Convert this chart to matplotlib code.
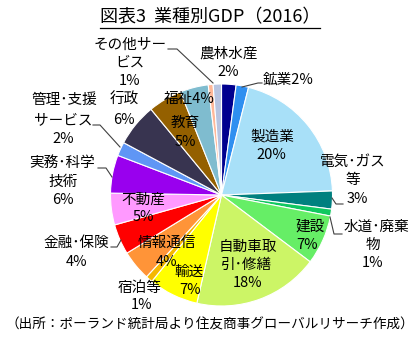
import matplotlib.pyplot as plt
from matplotlib.lines import Line2D

plt.rcParams['font.family'] = ['Noto Sans CJK JP', 'DejaVu Sans']

# 業種別GDP構成比（%）、上から時計回り
sectors = ["農林水産", "鉱業", "製造業", "電気･ガス等", "水道･廃棄物", "建設",
           "自動車取引･修繕", "輸送", "宿泊等", "情報通信", "金融･保険", "不動産",
           "実務･科学技術", "管理･支援サービス", "行政", "教育", "福祉", "その他", "その他サービス"]
shares = [2.1, 1.8, 20.4, 2.6, 1.0, 7.2,
          18.2, 7.2, 1.0, 4.4, 4.4, 4.6,
          5.5, 2.0, 6.2, 4.9, 4.1, 0.7, 1.2]
colors = ["#00008f", "#2f8ff0", "#a8e0f8", "#00807f", "#10c860", "#66ee66",
          "#ccf566", "#ffff00", "#f5b800", "#ff9438", "#ff0000", "#ff99ff",
          "#9900ee", "#5f96f5", "#383450", "#946000", "#7fbccf", "#ffb899", "#b8c4e0"]

W, H = 420, 341
CX, CY, R = 221.5, 195.0, 111.0

fig = plt.figure(figsize=(W / 100, H / 100), dpi=100)
ax = fig.add_axes([(CX - R) / W, (H - CY - R) / H, 2 * R / W, 2 * R / H])
ax.pie(shares, colors=colors, startangle=90, counterclock=False,
       wedgeprops=dict(edgecolor="white", linewidth=0.8))
ax.set_xlim(-1, 1)
ax.set_ylim(-1, 1)


def d(px, py):
    # ピクセル座標 -> パイの座標
    return ((px - CX) / R, (CY - py) / R)


def label(px, py, s, size=10.5):
    x, y = d(px, py)
    ax.text(x, y, s, ha="center", va="center", fontsize=size, clip_on=False)


def leader(*pts):
    xs, ys = zip(*[d(px, py) for px, py in pts])
    ax.plot(xs, ys, color="#404040", lw=0.8, clip_on=False)


def pct(name):
    return f"{shares[sectors.index(name)]:.0f}%"


# ラベル
label(130, 45, "その他サー")
label(130, 63, "ビス")
label(130, 81, pct("その他サービス"))
leader((168, 49), (177, 49), (213, 83))

label(229, 54, "農林水産")
label(228, 72, pct("農林水産"))

label(288, 80, "鉱業" + pct("鉱業"))
leader((242, 87), (258, 83), (262, 83))

label(272, 137, "製造業")
label(271, 155, pct("製造業"))

label(353, 162, "電気･ガス")
label(353, 180, "等")
label(357, 199, pct("電気･ガス等"))
leader((332, 198), (336, 204), (343, 204))

label(376, 227, "水道･廃棄")
label(373, 245, "物")
label(373, 263, pct("水道･廃棄物"))
leader((330, 217), (334, 234), (342, 234))

label(310, 227, "建設")
label(307, 245, pct("建設"))

label(248, 247, "自動車取")
label(247, 265, "引･修繕")
label(248, 283, pct("自動車取引･修繕"))

label(189, 272, "輸送")
label(190, 290, pct("輸送"))

label(140, 288, "宿泊等")
label(142, 305, pct("宿泊等"))

label(167, 243, "情報通信")
label(167, 262, pct("情報通信"))

label(76, 243, "金融･保険")
label(77, 262, pct("金融･保険"))
leader((111, 247), (117, 247), (121, 240))

label(143, 200, "不動産")
label(143, 217, pct("不動産"))

label(62, 163, "実務･科学")
label(63, 182, "技術")
label(63, 200, pct("実務･科学技術"))
leader((98, 168), (106, 168), (112, 177))

label(64, 100, "管理･支援")
label(63, 120, "サービス")
label(63, 139, pct("管理･支援サービス"))
leader((93, 125), (100, 125), (120, 147))

label(124, 100, "行政")
label(124, 120, pct("行政"))

label(189, 99, "福祉" + pct("福祉"))

label(185, 123, "教育")
label(185, 142, pct("教育"))

# タイトル（下線付き）
fig.text(210 / W, 1 - 17 / H, "図表3  業種別GDP（2016）", ha="center", va="center", fontsize=13)
fig.add_artist(Line2D([100 / W, 320 / W], [1 - 28 / H, 1 - 28 / H], color="black", lw=0.9))

# 出所
fig.text(210 / W, 1 - 325 / H, "（出所：ポーランド統計局より住友商事グローバルリサーチ作成）",
         ha="center", va="center", fontsize=9.8)

fig.savefig("out.png", dpi=100)
